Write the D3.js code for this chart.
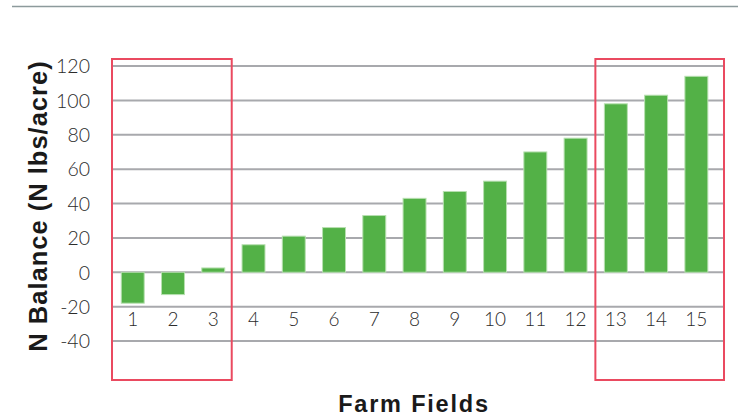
<!DOCTYPE html>
<html>
<head>
<meta charset="utf-8">
<script src="https://cdn.jsdelivr.net/npm/d3@7"></script>
<style>
  html, body { margin: 0; padding: 0; background: #fff; }
  svg { display: block; }
  .tick-label { font-family: Lato, "Liberation Sans", Arial, sans-serif; font-weight: 300; fill: #2b2b2b; }
  .title { font-family: "Liberation Sans", Arial, sans-serif; font-weight: 700; fill: #1a1a1a; }
</style>
</head>
<body>
<svg id="chart" width="738" height="416"></svg>
<script>
// Nitrogen balance per farm field
const fields = ["1","2","3","4","5","6","7","8","9","10","11","12","13","14","15"];
const nBalance = [-18, -13, 2.5, 16, 21, 26, 33, 43, 47, 53, 70, 78, 98, 103, 114];
const yTicks = [120, 100, 80, 60, 40, 20, 0, -20, -40];
// fields grouped in highlight boxes
const lowGroup = ["1", "2", "3"];
const highGroup = ["13", "14", "15"];

const svg = d3.select("#chart");
const W = 738, H = 416;

// plot region
const gridLeft = 113, gridRight = 723;
const x = d3.scaleBand().domain(fields).range([112.6, 716.5]).paddingInner(0.43).paddingOuter(0.215);
const y = d3.scaleLinear().domain([-40, 120]).range([341, 66]);

// rule across the top of the figure
svg.append("line")
  .attr("x1", 12).attr("x2", W).attr("y1", 6.5).attr("y2", 6.5)
  .attr("stroke", "#8d9a9c").attr("stroke-width", 1.6);

// horizontal gridlines
svg.append("g").selectAll("line").data(yTicks).join("line")
  .attr("x1", gridLeft).attr("x2", gridRight)
  .attr("y1", d => y(d)).attr("y2", d => y(d))
  .attr("stroke", "#a8a9ad").attr("stroke-width", 2);

// y axis labels
const yAxis = d3.axisLeft(y).tickValues(yTicks).tickSize(0).tickPadding(0)
  .tickFormat(d => d < 0 ? "-" + Math.abs(d) : d);
const gy = svg.append("g").attr("transform", "translate(90,0)").call(yAxis);
gy.select(".domain").remove();
gy.selectAll("text").attr("class", "tick-label").attr("font-size", 19.5).attr("dy", "0.35em");

// bars
svg.append("g").selectAll("rect").data(fields).join("rect")
  .attr("x", d => x(d))
  .attr("width", x.bandwidth())
  .attr("y", (d, i) => y(Math.max(0, nBalance[i])))
  .attr("height", (d, i) => Math.abs(y(nBalance[i]) - y(0)))
  .attr("fill", "#53b147")
  .attr("stroke", "#b7e0b0")
  .attr("stroke-width", 1);

// x axis labels, set between the 0 and -20 lines
const xAxis = d3.axisBottom(x).tickSize(0).tickPadding(0);
const gx = svg.append("g").attr("transform", "translate(0,312)").call(xAxis);
gx.select(".domain").remove();
gx.selectAll("text").attr("class", "tick-label").attr("font-size", 19).attr("dy", "0.71em");

// highlight boxes around the lowest and highest fields
function groupBox(x0, x1) {
  svg.append("rect")
    .attr("x", x0).attr("y", 59)
    .attr("width", x1 - x0).attr("height", 321)
    .attr("fill", "none").attr("stroke", "#ea4a60").attr("stroke-width", 2);
}
groupBox(112, x(lowGroup[lowGroup.length - 1]) + x.bandwidth() + 7);
groupBox(x(highGroup[0]) - 9, 724);

// axis titles
svg.append("text").attr("class", "title")
  .attr("transform", "translate(46.5,206) rotate(-90)")
  .attr("text-anchor", "middle")
  .attr("font-size", 25.5).attr("letter-spacing", 1)
  .text("N Balance (N lbs/acre)");

svg.append("text").attr("class", "title")
  .attr("x", 414).attr("y", 412)
  .attr("text-anchor", "middle")
  .attr("font-size", 23.5).attr("letter-spacing", 1.8)
  .text("Farm Fields");
</script>
</body>
</html>
